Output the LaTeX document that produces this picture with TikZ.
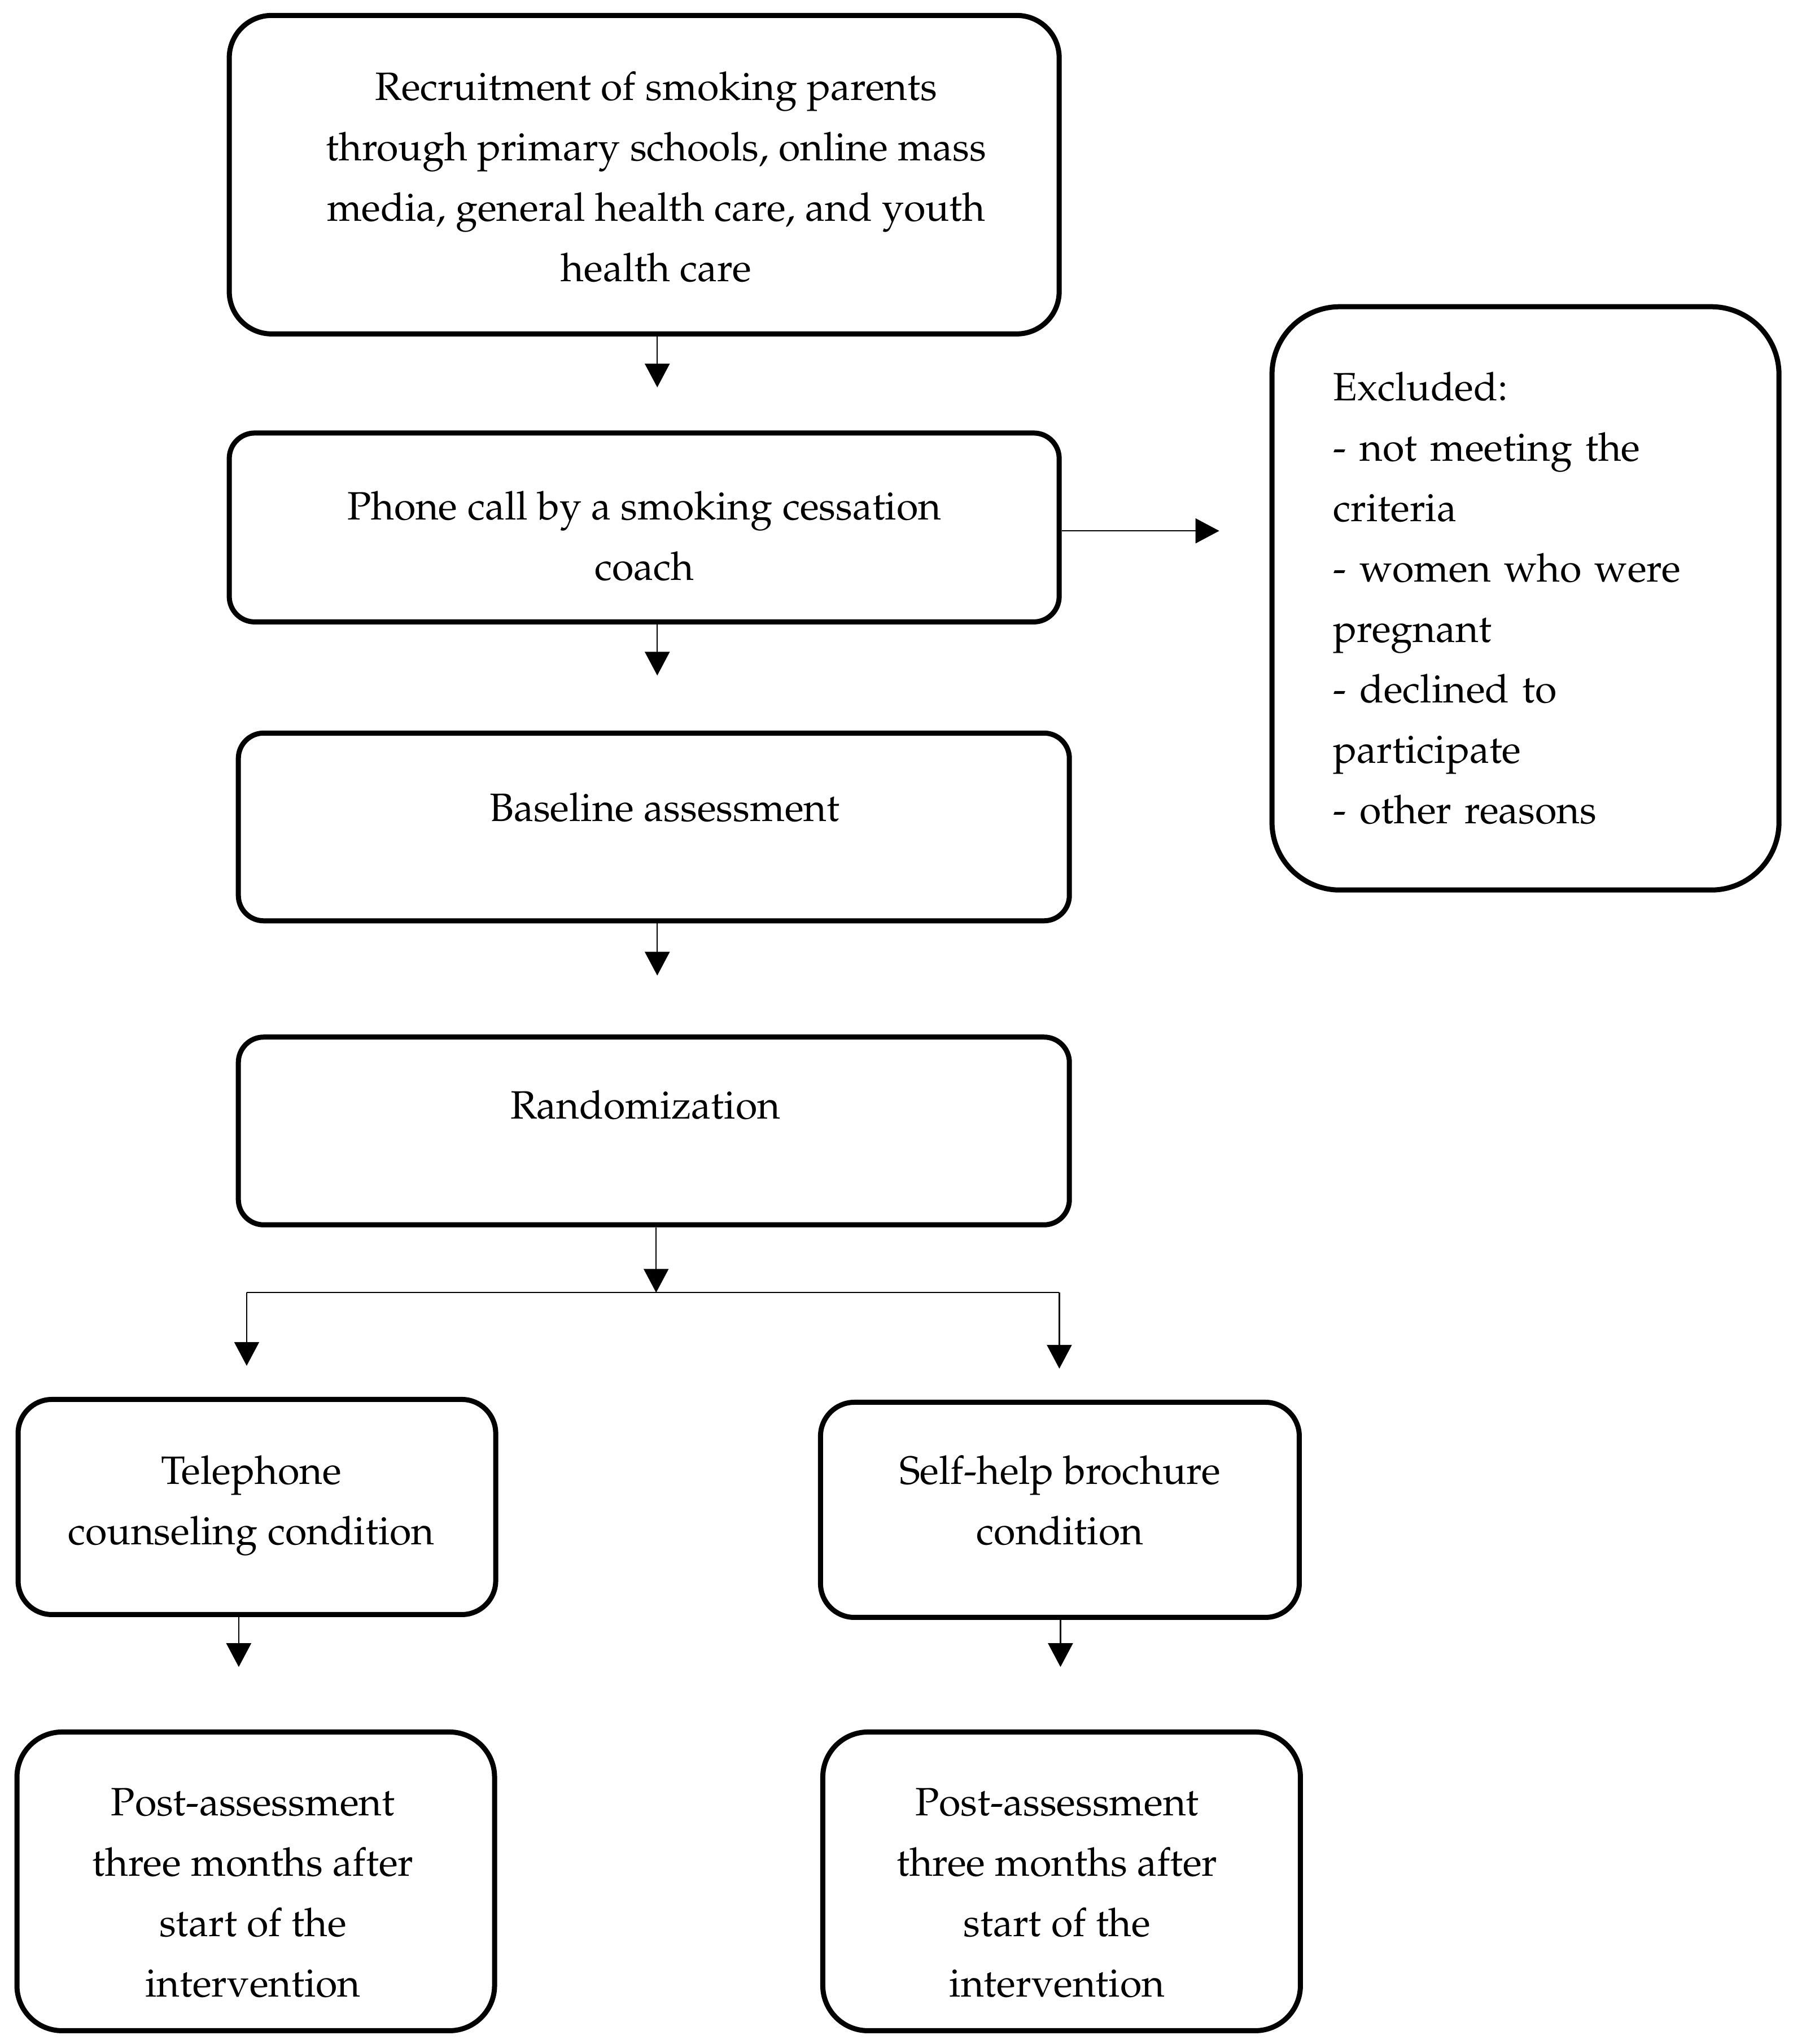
\documentclass[tikz,border=0pt]{standalone}
\usepackage[T1]{fontenc}
\usepackage{mathpazo}
\usetikzlibrary{arrows.meta}
\newcommand\boxfont{\fontsize{7.0pt}{10.7pt}\selectfont}
\begin{document}
\begin{tikzpicture}[x=0.10045pt,y=-0.10045pt,
  box/.style={draw, line width=0.9pt, rounded corners=#1, inner sep=0pt, align=center, font=\boxfont},
  box/.default=5pt,
  txt/.style={inner sep=0pt, align=center, font=\boxfont},
  arr/.style={line width=0.22pt, -{Triangle[width=4.4pt,length=4.2pt]}},
  ln/.style={line width=0.18pt}]
\useasboundingbox (0,0) rectangle (3160.8,3603.8);

\node[box=7.5pt, minimum width=147.0pt, minimum height=56.4pt] (b1) at (1136,308) {};
\node[txt] (b1t) at (1157,312)
  {Recruitment of smoking parents\\through primary schools, online mass\\media, general health care, and youth\\health care};
\node[box=4.5pt, minimum width=147.0pt, minimum height=33.45pt] (b2) at (1136,930) {};
\node[txt] (b2t) at (1136,945) {Phone call by a smoking cessation\\coach};
\node[box=12pt, minimum width=89.8pt, minimum height=103.3pt, align=left, text width=68.1pt] (ex) at (2690,1055)
  {Excluded:\\- not meeting the\\criteria\\- women who were\\pregnant\\- declined to\\participate\\- other reasons};
\node[box=4.5pt, minimum width=147.2pt, minimum height=33.25pt] (b3) at (1153,1458) {};
\node[txt] (b3t) at (1172,1424) {Baseline assessment};
\node[box=4.5pt, minimum width=147.2pt, minimum height=33.25pt] (b4) at (1153,1994) {};
\node[txt] (b4t) at (1138,1948) {Randomization};
\node[box=6pt, minimum width=84.6pt, minimum height=38.1pt] (b5) at (453,2657) {};
\node[txt] (b5t) at (443,2655) {Telephone\\counseling condition};
\node[box=6pt, minimum width=84.8pt, minimum height=38.1pt] (b6) at (1869,2662) {};
\node[txt] (b6t) at (1869,2646) {Self-help brochure\\condition};
\node[box=8pt, minimum width=84.6pt, minimum height=52.9pt] (b7) at (451,3317) {};
\node[txt] (b7t) at (446,3337)
  {Post-assessment\\three months after\\start of the\\intervention};
\node[box=8pt, minimum width=84.6pt, minimum height=52.9pt] (b8) at (1872,3317) {};
\node[txt] (b8t) at (1864,3337)
  {Post-assessment\\three months after\\start of the\\intervention};

\coordinate (a1) at (1159,683);
\coordinate (a2) at (1159,1191);
\coordinate (a3) at (1159,1720);
\coordinate (ae) at (2150,936);
\coordinate (bm) at (1157,2279);
\coordinate (bl) at (435,2279);
\coordinate (br) at (1868,2279);
\coordinate (t5) at (435,2408);
\coordinate (t6) at (1868,2413);
\coordinate (t7) at (421,2939);
\coordinate (t8) at (1870,2939);

\draw[arr] (b1.south -| a1) -- (a1);
\draw[arr] (b2.south -| a2) -- (a2);
\draw[arr] (b2.east |- ae) -- (ae);
\draw[arr] (b3.south -| a3) -- (a3);
\draw[ln] (bl) -- (br);
\draw[arr] (b4.south -| bm) -- (bm);
\draw[arr] (bl) -- (t5);
\draw[arr] (br) -- (t6);
\draw[arr] (b5.south -| t7) -- (t7);
\draw[arr] (b6.south -| t8) -- (t8);
\end{tikzpicture}
\end{document}
